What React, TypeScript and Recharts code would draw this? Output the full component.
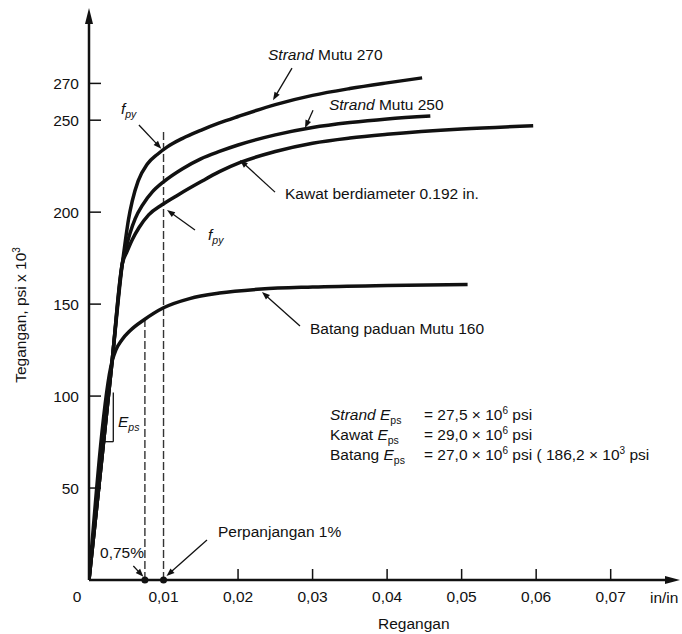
import React from "react";
import { LineChart, Line, XAxis, YAxis, ReferenceLine, ReferenceDot } from "recharts";

const W = 682;
const H = 634;
const FONT = '"Liberation Sans", Arial, Helvetica, sans-serif';
const INK = "#111";
const FS = 15.5;

// strain (in/in) vs stress (psi x 10^3)
const strand270Strain = [0, 0.0031, 0.00447, 0.0049, 0.0053, 0.0058, 0.0066, 0.0078, 0.0092, 0.0105, 0.0125, 0.015, 0.0175, 0.02, 0.025, 0.03, 0.035, 0.04, 0.0447];
const strand270Stress = [0, 119, 172, 185, 196, 206, 217, 226, 231.5, 235.5, 240, 244.5, 248.5, 252, 258.5, 263.5, 267.2, 270.3, 273];

const strand250Strain = [0, 0.0031, 0.00447, 0.005, 0.0055, 0.0062, 0.0072, 0.0085, 0.01, 0.0125, 0.015, 0.0175, 0.02, 0.025, 0.03, 0.035, 0.04, 0.0458];
const strand250Stress = [0, 119, 172, 181, 188.5, 196.5, 204, 211, 216.5, 223.5, 229, 233, 236.5, 242, 246, 248.7, 250.7, 252.3];

const kawatStrain = [0, 0.0031, 0.00447, 0.0051, 0.0058, 0.0067, 0.008, 0.0098, 0.012, 0.015, 0.0175, 0.0203, 0.025, 0.03, 0.035, 0.04, 0.05, 0.0596];
const kawatStress = [0, 119, 172, 178.5, 185, 191.5, 198.5, 204, 209.5, 216.5, 222, 227, 233, 237.5, 240.3, 242.3, 245.2, 247];

const batangStrain = [0, 0.0031, 0.0036, 0.0044, 0.0055, 0.0074, 0.01, 0.0135, 0.0175, 0.0231, 0.03, 0.04, 0.0508];
const batangStress = [0, 119, 125, 130.5, 135.5, 141.5, 148, 153, 156, 158.2, 159.3, 160.1, 160.6];

const xTicks = [0, 0.01, 0.02, 0.03, 0.04, 0.05, 0.06, 0.07];
const yTicks = [50, 100, 150, 200, 250, 270];
const xMax = 0.0793;
const yMax = 311;

const zip = (xs: number[], ys: number[]) => xs.map((x, i) => ({ x, y: ys[i] }));

const series = [
  zip(strand270Strain, strand270Stress),
  zip(strand250Strain, strand250Stress),
  zip(kawatStrain, kawatStress),
  zip(batangStrain, batangStress),
];

// annotation arrows: [from, tip] in data units
const arrows: [number, number, number, number][] = [
  [0.02724, 278.3, 0.02469, 260.9],
  [0.03006, 255.4, 0.02898, 245.7],
  [0.02496, 210.9, 0.02026, 228.3],
  [0.0067, 247.4, 0.0097, 234.5],
  [0.01422, 190.3, 0.01047, 201.2],
  [0.02831, 138.1, 0.02321, 156.6],
  [0.01583, 21.7, 0.0104, 2.2],
  [0.00595, 7.6, 0.0073, 1.8],
];

function Arrow(props: any) {
  const { x1, y1, x2, y2, head = 8, half = 3, sw = 1.3 } = props;
  const dx = x2 - x1;
  const dy = y2 - y1;
  const len = Math.hypot(dx, dy) || 1;
  const ux = dx / len;
  const uy = dy / len;
  const bx = x2 - ux * head;
  const by = y2 - uy * head;
  const pts = `${x2},${y2} ${bx - uy * half},${by + ux * half} ${bx + uy * half},${by - ux * half}`;
  return (
    <g>
      <line x1={x1} y1={y1} x2={bx + ux * 1} y2={by + uy * 1} stroke={INK} strokeWidth={sw} />
      <polygon points={pts} fill={INK} />
    </g>
  );
}

const txt = { fontFamily: FONT, fontSize: FS, fill: INK };

const YTick = (p: any) => {
  const { x, y, payload } = p;
  return (
    <g>
      <line x1={x} x2={x + 12} y1={y} y2={y} stroke={INK} strokeWidth={1.5} />
      <text x={x - 10} y={y + 5.5} textAnchor="end" {...txt}>{payload.value}</text>
    </g>
  );
};

const XTick = (p: any) => {
  const { x, y, payload } = p;
  const v = payload.value as number;
  if (v === 0) {
    return <text x={x - 12} y={y + 22} textAnchor="middle" {...txt}>0</text>;
  }
  return (
    <g>
      {v !== 0.01 && <line x1={x} x2={x} y1={y} y2={y - 11} stroke={INK} strokeWidth={1.5} />}
      <text x={x} y={y + 22} textAnchor="middle" {...txt}>{v.toFixed(2).replace(".", ",")}</text>
    </g>
  );
};

const Sub = ({ children }: { children: React.ReactNode }) => (
  <tspan fontSize={10.5} dy={4}>{children}</tspan>
);

const notes: { x: number; y: number; body: (cx: number, cy: number) => React.ReactNode }[] = [
  { x: 0.02402, y: 282.7, body: (cx, cy) => (
    <text x={cx} y={cy} {...txt}><tspan fontStyle="italic">Strand</tspan> Mutu 270</text>
  ) },
  { x: 0.0322, y: 255.5, body: (cx, cy) => (
    <text x={cx} y={cy} {...txt}><tspan fontStyle="italic">Strand</tspan> Mutu 250</text>
  ) },
  { x: 0.0263, y: 207.2, body: (cx, cy) => (
    <text x={cx} y={cy} {...txt}>Kawat berdiameter 0.192 in.</text>
  ) },
  { x: 0.00429, y: 253.4, body: (cx, cy) => (
    <text x={cx} y={cy} {...txt} fontStyle="italic">f<Sub>py</Sub></text>
  ) },
  { x: 0.01597, y: 184.9, body: (cx, cy) => (
    <text x={cx} y={cy} {...txt} fontStyle="italic">f<Sub>py</Sub></text>
  ) },
  { x: 0.02965, y: 133.8, body: (cx, cy) => (
    <text x={cx} y={cy} {...txt}>Batang paduan Mutu 160</text>
  ) },
  { x: 0.01731, y: 23.4, body: (cx, cy) => (
    <text x={cx} y={cy} {...txt}>Perpanjangan 1%</text>
  ) },
  { x: 0.00148, y: 12.0, body: (cx, cy) => (
    <text x={cx} y={cy} {...txt}>0,75%</text>
  ) },
  { x: 0.00389, y: 83.2, body: (cx, cy) => (
    <text x={cx} y={cy} {...txt} fontStyle="italic">E<Sub>ps</Sub></text>
  ) },
  { x: 0.03234, y: 87.0, body: (cx, cy) => (
    <g>
      <text x={cx} y={cy} {...txt}>
        <tspan fontStyle="italic">Strand E</tspan><Sub>ps</Sub>
        <tspan x={cx + 94} dy={-4}>= 27,5 × 10</tspan><tspan fontSize={10} dy={-6}>6</tspan><tspan dy={6}> psi</tspan>
      </text>
      <text x={cx} y={cy + 20} {...txt}>
        Kawat <tspan fontStyle="italic">E</tspan><Sub>ps</Sub>
        <tspan x={cx + 94} dy={-4}>= 29,0 × 10</tspan><tspan fontSize={10} dy={-6}>6</tspan><tspan dy={6}> psi</tspan>
      </text>
      <text x={cx} y={cy + 40} {...txt}>
        Batang <tspan fontStyle="italic">E</tspan><Sub>ps</Sub>
        <tspan x={cx + 94} dy={-4}>= 27,0 × 10</tspan><tspan fontSize={10} dy={-6}>6</tspan><tspan dy={6}> psi ( 186,2 × 10</tspan><tspan fontSize={10} dy={-6}>3</tspan><tspan dy={6}> psi</tspan>
      </text>
    </g>
  ) },
  { x: 0.07527, y: -12.5, body: (cx, cy) => (
    <text x={cx} y={cy} {...txt}>in/in</text>
  ) },
  { x: 0.03878, y: -26.6, body: (cx, cy) => (
    <text x={cx} y={cy} {...txt}>Regangan</text>
  ) },
  { x: -0.00845, y: 144.1, body: (cx, cy) => (
    <text transform={`translate(${cx},${cy}) rotate(-90)`} textAnchor="middle" {...txt}>
      Tegangan, psi x 10<tspan fontSize={10} dy={-6}>3</tspan>
    </text>
  ) },
];

export default function App() {
  return (
    <div style={{ position: "absolute", left: 0, top: 0, width: W, height: H, background: "#fff" }}>
      <LineChart width={W} height={H} margin={{ top: 8, right: 2, bottom: 0, left: 0 }}>
        <XAxis
          type="number"
          dataKey="x"
          domain={[0, xMax]}
          ticks={xTicks}
          allowDataOverflow
          height={54}
          axisLine={false}
          tickLine={false}
          tickSize={0}
          tickMargin={0}
          tick={<XTick />}
          interval={0}
        />
        <YAxis
          type="number"
          dataKey="y"
          domain={[0, yMax]}
          ticks={yTicks}
          allowDataOverflow
          width={89}
          axisLine={false}
          tickLine={false}
          tickSize={0}
          tickMargin={0}
          tick={<YTick />}
          interval={0}
        />
        <ReferenceLine
          segment={[{ x: 0.01, y: 0 }, { x: 0.01, y: 245 }]}
          stroke="#333"
          strokeWidth={1.4}
          strokeDasharray="8 3"
          ifOverflow="visible"
        />
        <ReferenceLine
          segment={[{ x: 0.0075, y: 0 }, { x: 0.0075, y: 141.5 }]}
          stroke="#333"
          strokeWidth={1.4}
          strokeDasharray="8 3"
          ifOverflow="visible"
        />
        <ReferenceLine segment={[{ x: 0.002, y: 75.2 }, { x: 0.00326, y: 75.2 }]} stroke={INK} strokeWidth={1.3} ifOverflow="visible" />
        <ReferenceLine segment={[{ x: 0.00326, y: 75.2 }, { x: 0.00326, y: 102 }]} stroke={INK} strokeWidth={1.3} ifOverflow="visible" />
        {series.map((d, i) => (
          <Line
            key={i}
            data={d}
            dataKey="y"
            type="monotone"
            stroke={INK}
            strokeWidth={3.5}
            dot={false}
            activeDot={false}
            isAnimationActive={false}
          />
        ))}
        <ReferenceLine
          segment={[{ x: 0, y: 0 }, { x: 0, y: yMax }]}
          ifOverflow="visible"
          shape={(p: any) => <Arrow {...p} head={16} half={4} sw={2.5} />}
        />
        <ReferenceLine
          segment={[{ x: 0, y: 0 }, { x: xMax, y: 0 }]}
          ifOverflow="visible"
          shape={(p: any) => <Arrow {...p} head={15} half={4} sw={2.5} />}
        />
        {arrows.map((a, i) => (
          <ReferenceLine
            key={"a" + i}
            segment={[{ x: a[0], y: a[1] }, { x: a[2], y: a[3] }]}
            ifOverflow="visible"
            shape={(p: any) => <Arrow {...p} />}
          />
        ))}
        <ReferenceDot x={0.0075} y={0} r={3.5} fill={INK} stroke="none" ifOverflow="visible" />
        <ReferenceDot x={0.01} y={0} r={3.5} fill={INK} stroke="none" ifOverflow="visible" />
        {notes.map((n, i) => (
          <ReferenceDot
            key={"n" + i}
            x={n.x}
            y={n.y}
            r={0}
            ifOverflow="visible"
            shape={(p: any) => <g>{n.body(p.cx, p.cy)}</g>}
          />
        ))}
      </LineChart>
    </div>
  );
}
